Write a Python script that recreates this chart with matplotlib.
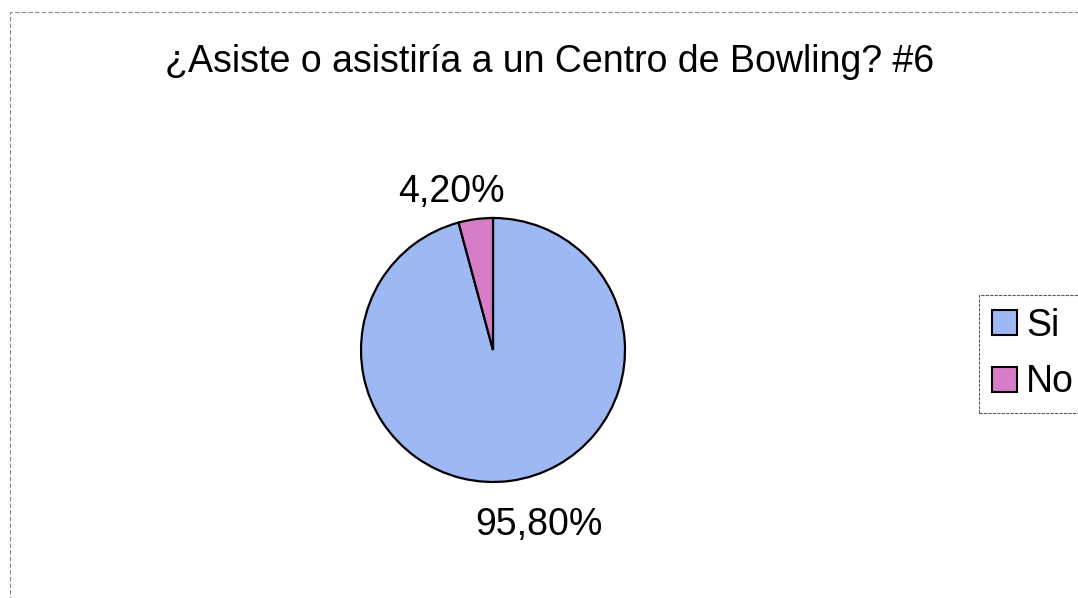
import numpy as np
import matplotlib.pyplot as plt
from matplotlib.patches import Rectangle

categories = ['Si', 'No']
values = [95.8, 4.2]
pct_labels = ['95,80%', '4,20%']
colors = ['#9DB8F2', '#D77DC8']
title = u'¿Asiste o asistiría a un Centro de Bowling? #6'

plt.rcParams['font.family'] = ['Liberation Sans', 'DejaVu Sans']

W, H = 1078, 598
fig = plt.figure(figsize=(W/100, H/100), dpi=100)
fig.patch.set_facecolor('white')

# dashed chart border (runs off right and bottom)
fig.patches.append(Rectangle((10/W, -0.1), 1.2, 1 - 12/H + 0.1, transform=fig.transFigure,
                             fill=False, edgecolor='#8a8a8a', linestyle=(0, (4, 2)), linewidth=0.8))

fig.text(550/W, 1 - 62/H, title, ha='center', va='center', fontsize=27)

# pie axes: center ~ (493, 350) px, radius ~132 px
r = 132
cx, cy = 493, 350
ax = fig.add_axes([(cx - r)/W, (H - cy - r)/H, 2*r/W, 2*r/H])
wedges, texts = ax.pie(values, colors=colors, labels=pct_labels, startangle=90,
                       counterclock=False,
                       wedgeprops=dict(edgecolor='black', linewidth=1.6),
                       textprops=dict(fontsize=27))
# excel-like label placement: a bit rotated from the mid angle
dists = [1.37, 1.24]
for w, t, d in zip(wedges, texts, dists):
    ang = np.deg2rad((w.theta1 + w.theta2)/2 + 7)
    t.set_position((d*np.cos(ang), d*np.sin(ang)))
    t.set_ha('center')
    t.set_va('center')
ax.set_xlim(-1, 1)
ax.set_ylim(-1, 1)
ax.set_aspect('equal')
ax.axis('off')

leg = fig.legend(wedges, categories, loc='center left', bbox_to_anchor=(979/W, 1 - 354/H),
                 fontsize=27, frameon=True, fancybox=False, handlelength=0.65, handleheight=0.65,
                 handletextpad=0.25, labelspacing=0.55, borderpad=0.35, borderaxespad=0)
leg.get_frame().set_edgecolor('#333333')
leg.get_frame().set_linestyle((0, (3, 1)))
leg.get_frame().set_linewidth(0.8)
for h in leg.legend_handles:
    h.set_edgecolor('black')
    h.set_linewidth(1.5)

fig.savefig('out.png', dpi=100)
